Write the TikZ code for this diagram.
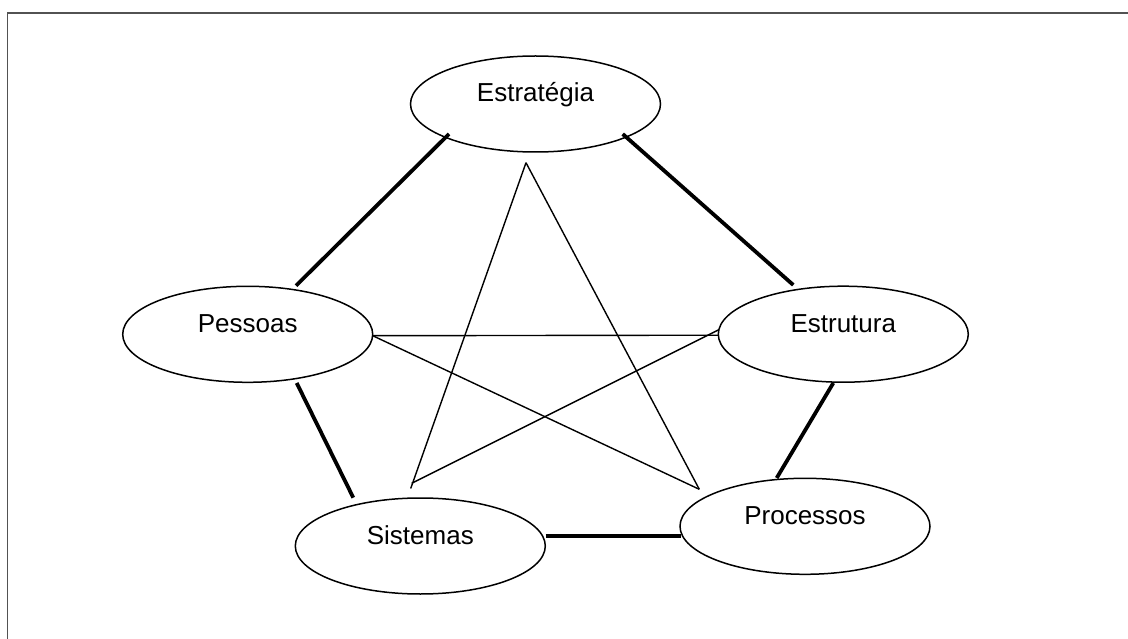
\documentclass[tikz,border=0pt]{standalone}
\usepackage{fontspec}
\setmainfont{Liberation Sans}
\usetikzlibrary{shapes.geometric,calc}

\tikzset{
  oval/.style={ellipse, draw=black, line width=1.5pt, inner sep=0pt,
    minimum width=250pt, minimum height=96pt,
    font=\fontsize{26}{30}\selectfont, text height=0pt, text depth=4pt},
  thin link/.style={draw=black, line width=1.4pt},
  thick link/.style={draw=black, line width=3.8pt},
  frame/.style={draw=black!68, line width=1.6pt}
}

\begin{document}
\begin{tikzpicture}[x=1pt,y=-1pt]
\useasboundingbox (0,0) rectangle (1128,639);

% page frame (left and top edges)
\coordinate (fb) at (7.5,639);
\coordinate (fc) at (7.5,12.8);
\coordinate (fr) at (1128,12.8);
\draw[frame] (fb) -- (fc) -- (fr);

% the five elements
\node[oval] (est) at (535.5,104)   {Estratégia};
\node[oval] (pes) at (247.7,334.3) {Pessoas};
\node[oval] (str) at (843.3,334.2) {Estrutura};
\node[oval] (sis) at (420.3,546)   {Sistemas};
\node[oval] (pro) at (805,526.3)   {Processos};

% outer ring of strong links
\draw[thick link] ($(est)+(-86.5,30)$) -- ($(pes)+(48.3,-48.6)$);
\draw[thick link] ($(est)+(87.2,30)$)  -- ($(str)+(-50,-49.2)$);
\draw[thick link] ($(str)+(-10,48.8)$) -- ($(pro)+(-28.3,-48.3)$);
\draw[thick link] ($(sis)+(125.4,-10)$) -- ($(pro)+(-124.5,9.7)$);
\draw[thick link] ($(pes)+(49,48.7)$)  -- ($(sis)+(-67,-48.3)$);

% inner star of weaker links
\draw[thin link] ($(pes)+(125,1.4)$) -- ($(str)+(-125,1)$);
\draw[thin link] ($(pes)+(125,1.4)$) -- ($(pro)+(-105.7,-37)$);
\draw[thin link] ($(est)+(-9.5,58.7)$) -- ($(sis)+(-9.6,-57.5)$);
\draw[thin link] ($(est)+(-9.5,58.7)$) -- ($(pro)+(-105.7,-37)$);
\draw[thin link] ($(str)+(-125,-4.2)$) -- ($(sis)+(-8.6,-62.7)$);
\end{tikzpicture}
\end{document}
